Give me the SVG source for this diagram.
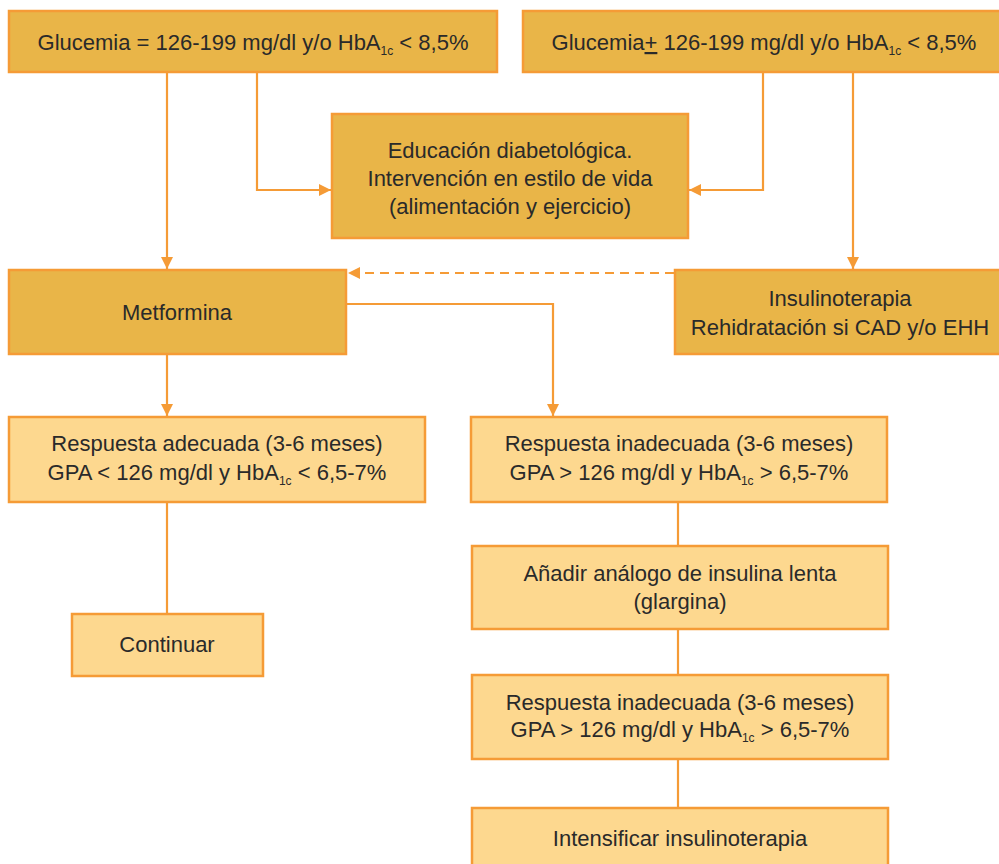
<svg xmlns="http://www.w3.org/2000/svg" width="999" height="864" viewBox="0 0 999 864">
<style>
.dark{fill:#E9B548;stroke:#F59B36;stroke-width:2.5}
.light{fill:#FDD88F;stroke:#F59B36;stroke-width:2.5}
.t{font-family:"Liberation Sans",Arial,sans-serif;font-size:22px;fill:#2a2a2a;text-anchor:middle}
.sub{font-size:12px}
.c{fill:none;stroke:#F59B36;stroke-width:2.2}
.d{stroke-dasharray:9,6}
</style>
<defs>
<marker id="ah" viewBox="0 0 10 10" refX="10" refY="5" markerWidth="12" markerHeight="12" markerUnits="userSpaceOnUse" orient="auto">
<path d="M0,0 L10,5 L0,10 Z" fill="#F59B36"/>
</marker>
</defs>
<g id="connectors">
<path class="c" d="M167,73 V269" marker-end="url(#ah)"/>
<path class="c" d="M257,73 V190 H331" marker-end="url(#ah)"/>
<path class="c" d="M763,73 V190 H689" marker-end="url(#ah)"/>
<path class="c" d="M853,73 V269" marker-end="url(#ah)"/>
<path class="c d" d="M674,273 H348" marker-end="url(#ah)"/>
<path class="c" d="M347,304 H553 V416" marker-end="url(#ah)"/>
<path class="c" d="M167,355 V416" marker-end="url(#ah)"/>
<path class="c" d="M167,503 V614"/>
<path class="c" d="M678,503 V546"/>
<path class="c" d="M678,630 V675"/>
<path class="c" d="M678,760 V808"/>
</g>
<g id="n1">
<rect class="dark" x="9" y="11" width="488" height="61"/>
<text class="t" x="253" y="50">Glucemia = 126-199 mg/dl y/o HbA<tspan class="sub" dy="5">1c</tspan><tspan dy="-5"> &lt; 8,5%</tspan></text>
</g>
<g id="n2">
<rect class="dark" x="523" y="11" width="490" height="61"/>
<text class="t" x="764" y="50">Glucemia<tspan text-decoration="underline">+</tspan> 126-199 mg/dl y/o HbA<tspan class="sub" dy="5">1c</tspan><tspan dy="-5"> &lt; 8,5%</tspan></text>
</g>
<g id="n3">
<rect class="dark" x="332" y="114" width="356" height="124"/>
<text class="t" x="510" y="158">Educación diabetológica.</text>
<text class="t" x="510" y="186">Intervención en estilo de vida</text>
<text class="t" x="510" y="214">(alimentación y ejercicio)</text>
</g>
<g id="n4">
<rect class="dark" x="9" y="270" width="337" height="84"/>
<text class="t" x="177" y="320">Metformina</text>
</g>
<g id="n5">
<rect class="dark" x="675" y="270" width="338" height="84"/>
<text class="t" x="840" y="306">Insulinoterapia</text>
<text class="t" x="840" y="335">Rehidratación si CAD y/o EHH</text>
</g>
<g id="n6">
<rect class="light" x="9" y="417" width="416" height="85"/>
<text class="t" x="217" y="451">Respuesta adecuada (3-6 meses)</text>
<text class="t" x="217" y="480">GPA &lt; 126 mg/dl y HbA<tspan class="sub" dy="5">1c</tspan><tspan dy="-5"> &lt; 6,5-7%</tspan></text>
</g>
<g id="n7">
<rect class="light" x="471" y="417" width="416" height="85"/>
<text class="t" x="679" y="451">Respuesta inadecuada (3-6 meses)</text>
<text class="t" x="679" y="480">GPA &gt; 126 mg/dl y HbA<tspan class="sub" dy="5">1c</tspan><tspan dy="-5"> &gt; 6,5-7%</tspan></text>
</g>
<g id="n8">
<rect class="light" x="72" y="614" width="191" height="62"/>
<text class="t" x="167" y="652">Continuar</text>
</g>
<g id="n9">
<rect class="light" x="472" y="546" width="416" height="83"/>
<text class="t" x="680" y="581">Añadir análogo de insulina lenta</text>
<text class="t" x="680" y="609">(glargina)</text>
</g>
<g id="n10">
<rect class="light" x="472" y="675" width="416" height="84"/>
<text class="t" x="680" y="710">Respuesta inadecuada (3-6 meses)</text>
<text class="t" x="680" y="737">GPA &gt; 126 mg/dl y HbA<tspan class="sub" dy="5">1c</tspan><tspan dy="-5"> &gt; 6,5-7%</tspan></text>
</g>
<g id="n11">
<rect class="light" x="472" y="808" width="416" height="70"/>
<text class="t" x="680" y="846">Intensificar insulinoterapia</text>
</g>
</svg>
